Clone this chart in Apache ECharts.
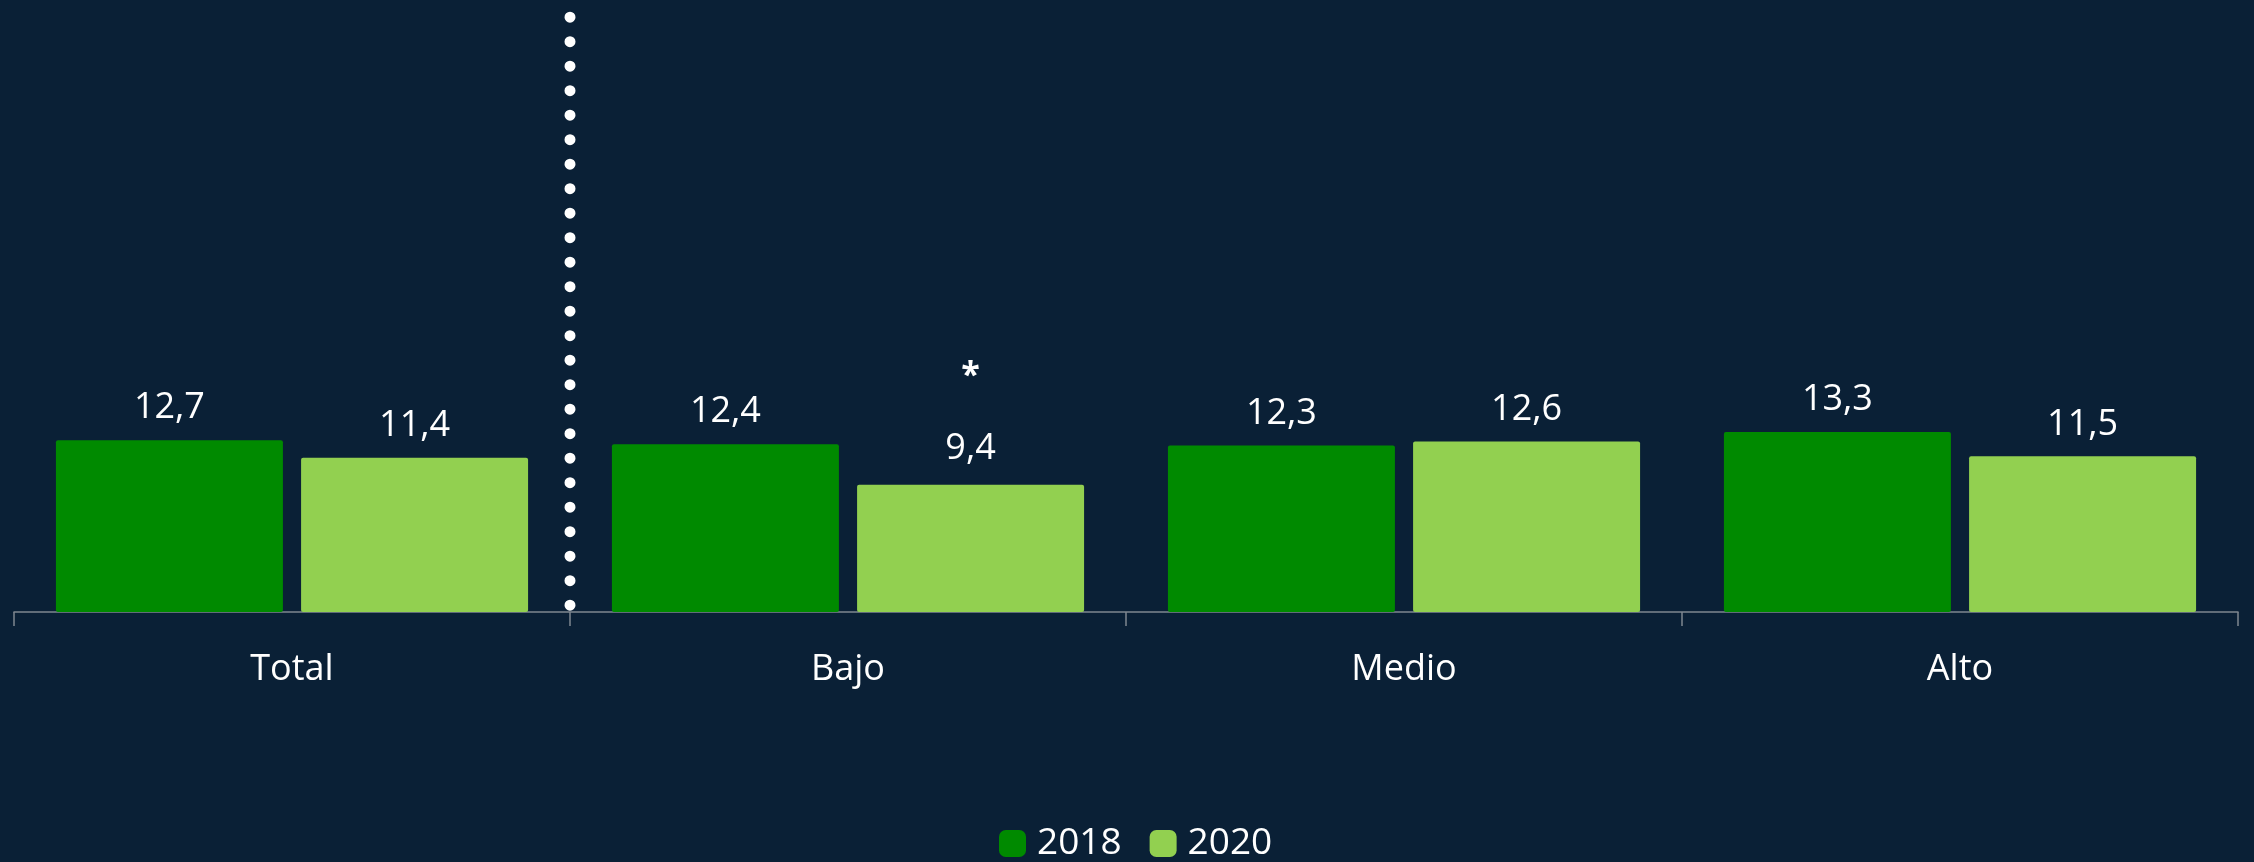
<!DOCTYPE html>
<html>
<head>
<meta charset="utf-8">
<script src="https://cdn.jsdelivr.net/npm/echarts@6/dist/echarts.min.js"></script>
<style>
  html, body { margin: 0; padding: 0; background: #0a2036; }
  #chart { width: 2254px; height: 862px; }
</style>
</head>
<body>
<div id="chart"></div>
<script>
// categorias y valores
const categories = ['Total', 'Bajo', 'Medio', 'Alto'];
const years = ['2018', '2020'];
const values2018 = [12.7, 12.4, 12.3, 13.3];
const values2020 = [11.4, 9.4, 12.6, 11.5];
// diferencia significativa marcada con asterisco (serie 2020)
const starred2020 = [false, true, false, false];
// linea punteada entre Total y el resto (limite de categoria 1)
const separatorAt = 1;

document.addEventListener('DOMContentLoaded', function () {

    const chartDom = document.getElementById('chart');
    const myChart = echarts.init(chartDom);

    const fmt = v => v.toFixed(1).replace('.', ',');
    const font = '"Open Sans", sans-serif';

    const labelBase = {
        show: true,
        position: 'top',
        distance: 14,
        color: '#ffffff',
        fontFamily: font,
        fontSize: 36
    };

    myChart.setOption({
        backgroundColor: '#0a2036',
        animation: false,
        textStyle: { fontFamily: font },
        grid: { left: 14, right: 16, top: 3, bottom: 250, containLabel: false },
        legend: {
            data: years,
            top: 820,
            left: 994,
            itemWidth: 27,
            itemHeight: 27,
            itemGap: 28,
            icon: 'roundRect',
            textStyle: { color: '#ffffff', fontSize: 37, fontFamily: font, padding: [0, 0, 0, 6] }
        },
        xAxis: [
            {
                type: 'category',
                data: categories,
                axisLine: { lineStyle: { color: '#7f8790', width: 1.5 } },
                axisTick: { show: true, length: 14, lineStyle: { color: '#7f8790', width: 1.5 } },
                axisLabel: { color: '#ffffff', fontSize: 36, fontFamily: font, margin: 40 }
            },
            {
                type: 'value',
                min: 0,
                max: categories.length,
                show: false
            }
        ],
        yAxis: {
            type: 'value',
            min: 0,
            max: 45,
            show: false,
            splitLine: { show: false }
        },
        series: [
            {
                name: years[0],
                type: 'bar',
                data: values2018,
                barWidth: 227,
                barGap: '8%',
                itemStyle: { color: '#008a00', borderRadius: 2 },
                label: Object.assign({}, labelBase, { formatter: p => fmt(p.value) })
            },
            {
                name: years[1],
                type: 'bar',
                data: values2020.map((v, i) => starred2020[i] ? {
                    value: v,
                    label: Object.assign({}, labelBase, {
                        formatter: p => '{star|*}\n' + fmt(p.value),
                        rich: {
                            star: { color: '#ffffff', fontSize: 34, fontWeight: 'bold', fontFamily: font, lineHeight: 100, verticalAlign: 'middle' }
                        },
                        lineHeight: 44
                    })
                } : v),
                barWidth: 227,
                barGap: '8%',
                itemStyle: { color: '#92d050', borderRadius: 2 },
                label: Object.assign({}, labelBase, { formatter: p => fmt(p.value) })
            },
            {
                name: 'separador',
                type: 'line',
                xAxisIndex: 1,
                data: [[separatorAt, 0.5], [separatorAt, 44.1]],
                symbol: 'none',
                silent: true,
                lineStyle: { color: '#ffffff', width: 11, type: [0.1, 24.4], cap: 'round' }
            }
        ]
    });

    window.addEventListener('resize', () => myChart.resize());
});
</script>
</body>
</html>
